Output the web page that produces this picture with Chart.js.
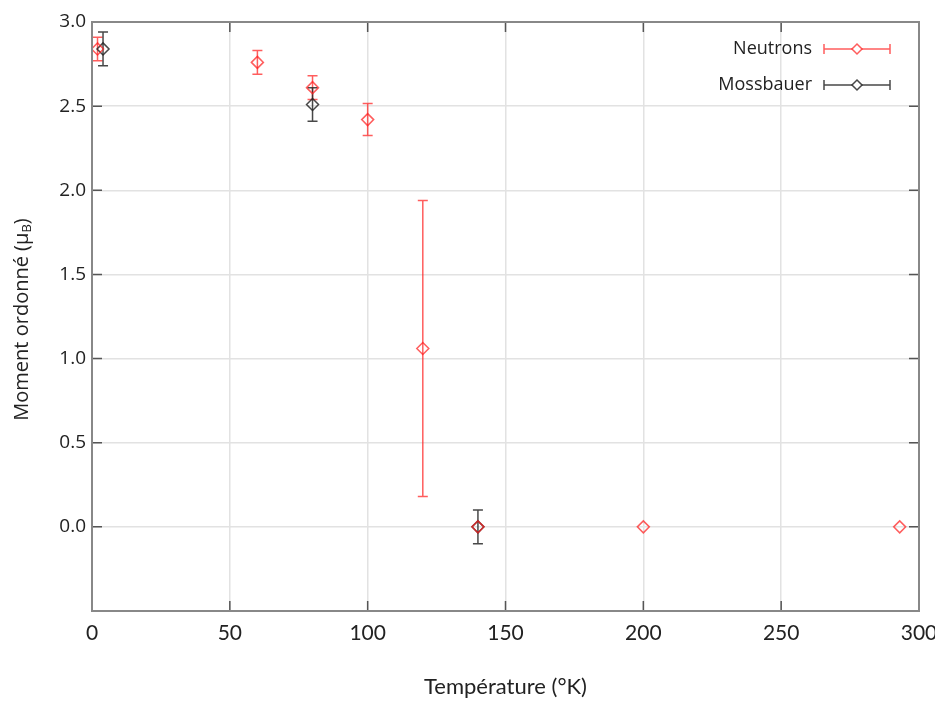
<!DOCTYPE html>
<html>
<head>
<meta charset="utf-8">
<script src="https://cdn.jsdelivr.net/npm/chart.js@4"></script>
<style>
  html, body { margin: 0; padding: 0; background: #fff; }
  #wrap { width: 935px; height: 702px; }
</style>
</head>
<body>
<div id="wrap"><canvas id="momentChart" width="935" height="702"></canvas></div>
<script>
// Neutrons (red)
const neutronT = [2, 60, 80, 100, 120, 140, 200, 293];
const neutronM = [2.84, 2.76, 2.61, 2.42, 1.06, 0.0, 0.0, 0.0];
const neutronErr = [0.07, 0.07, 0.07, 0.095, 0.88, 0, 0, 0];

// Mossbauer (black)
const mossT = [4, 80, 140];
const mossM = [2.84, 2.51, 0.0];
const mossErr = [0.1, 0.1, 0.1];

const xTicks = [0, 50, 100, 150, 200, 250, 300];
const yTicks = [-0.5, 0, 0.5, 1.0, 1.5, 2.0, 2.5, 3.0];

const RED = 'rgba(255, 30, 30, 0.72)';
const BLACK = 'rgba(40, 40, 40, 0.85)';

const toPoints = (xs, ys) => xs.map((x, i) => ({ x: x, y: ys[i] }));

// error bars, frame, inward ticks and legend
const decor = {
  id: 'decor',
  beforeDatasetsDraw(chart) {
    const ctx = chart.ctx;
    const xs = chart.scales.x, ys = chart.scales.y;
    const errs = [neutronErr, mossErr];
    chart.data.datasets.forEach((ds, di) => {
      ctx.save();
      ctx.strokeStyle = ds.borderColor;
      ctx.lineWidth = 1.5;
      ds.data.forEach((p, i) => {
        const e = errs[di][i];
        if (!e) return;
        const px = xs.getPixelForValue(p.x);
        const top = ys.getPixelForValue(p.y + e);
        const bot = ys.getPixelForValue(p.y - e);
        ctx.beginPath();
        ctx.moveTo(px, top); ctx.lineTo(px, bot);
        ctx.moveTo(px - 5, top); ctx.lineTo(px + 5, top);
        ctx.moveTo(px - 5, bot); ctx.lineTo(px + 5, bot);
        ctx.stroke();
      });
      ctx.restore();
    });
  },
  afterDraw(chart) {
    const ctx = chart.ctx;
    const a = chart.chartArea;
    const xs = chart.scales.x, ys = chart.scales.y;
    ctx.save();
    // inward ticks
    ctx.strokeStyle = '#555';
    ctx.lineWidth = 1.5;
    ctx.beginPath();
    xTicks.slice(1, -1).forEach(v => {
      const px = xs.getPixelForValue(v);
      ctx.moveTo(px, a.bottom); ctx.lineTo(px, a.bottom - 10);
      ctx.moveTo(px, a.top); ctx.lineTo(px, a.top + 10);
    });
    yTicks.slice(1, -1).forEach(v => {
      const py = ys.getPixelForValue(v);
      ctx.moveTo(a.left, py); ctx.lineTo(a.left + 10, py);
      ctx.moveTo(a.right, py); ctx.lineTo(a.right - 10, py);
    });
    ctx.stroke();
    // frame
    ctx.strokeStyle = '#888';
    ctx.lineWidth = 2;
    ctx.strokeRect(a.left, a.top, a.right - a.left, a.bottom - a.top);

    // legend
    const items = [
      { label: 'Neutrons', color: RED, y: 49 },
      { label: 'Mossbauer', color: BLACK, y: 85 }
    ];
    ctx.font = '18px "Open Sans"';
    ctx.textAlign = 'right';
    ctx.textBaseline = 'middle';
    items.forEach(it => {
      ctx.fillStyle = '#222';
      ctx.fillText(it.label, 812, it.y);
      ctx.strokeStyle = it.color;
      ctx.lineWidth = 1.5;
      ctx.beginPath();
      ctx.moveTo(824, it.y); ctx.lineTo(890, it.y);
      ctx.moveTo(824, it.y - 5); ctx.lineTo(824, it.y + 5);
      ctx.moveTo(890, it.y - 5); ctx.lineTo(890, it.y + 5);
      ctx.stroke();
      ctx.fillStyle = '#fff';
      ctx.beginPath();
      ctx.moveTo(857, it.y - 5); ctx.lineTo(862, it.y);
      ctx.lineTo(857, it.y + 5); ctx.lineTo(852, it.y);
      ctx.closePath();
      ctx.fill(); ctx.stroke();
    });

    // y axis title with subscript B
    ctx.translate(22, (a.top + a.bottom) / 2 + 3);
    ctx.rotate(-Math.PI / 2);
    ctx.fillStyle = '#222';
    ctx.textAlign = 'left';
    ctx.textBaseline = 'middle';
    const main = 'Moment ordonné (μ';
    ctx.font = '20px "Open Sans"';
    const w1 = ctx.measureText(main).width;
    ctx.font = '13px "Open Sans"';
    const w2 = ctx.measureText('B').width;
    ctx.font = '20px "Open Sans"';
    const w3 = ctx.measureText(')').width;
    const start = -(w1 + w2 + w3) / 2;
    ctx.fillText(main, start, 0);
    ctx.font = '13px "Open Sans"';
    ctx.fillText('B', start + w1, 5);
    ctx.font = '20px "Open Sans"';
    ctx.fillText(')', start + w1 + w2, 0);
    ctx.restore();
  }
};

const ctx = document.getElementById('momentChart').getContext('2d');
new Chart(ctx, {
  type: 'scatter',
  data: {
    datasets: [
      {
        label: 'Neutrons',
        data: toPoints(neutronT, neutronM),
        borderColor: RED,
        backgroundColor: 'rgba(255,255,255,0)',
        pointStyle: 'rectRot',
        pointRadius: 6,
        pointBorderWidth: 1.5,
        showLine: false
      },
      {
        label: 'Mossbauer',
        data: toPoints(mossT, mossM),
        borderColor: BLACK,
        backgroundColor: 'rgba(255,255,255,0)',
        pointStyle: 'rectRot',
        pointRadius: 6,
        pointBorderWidth: 1.5,
        showLine: false
      }
    ]
  },
  options: {
    responsive: false,
    animation: false,
    layout: { padding: { top: 22, right: 16, left: 0, bottom: 0 } },
    plugins: {
      legend: { display: false },
      tooltip: { enabled: false }
    },
    scales: {
      x: {
        type: 'linear',
        min: 0,
        max: 300,
        afterBuildTicks: s => { s.ticks = xTicks.map(v => ({ value: v })); },
        afterFit: s => { s.height = 91; s.paddingLeft = 0; s.paddingRight = 0; },
        grid: { color: '#e2e2e2', lineWidth: 1.5, drawTicks: false },
        border: { display: false },
        ticks: {
          padding: 10,
          color: '#222',
          font: { family: 'Lato', size: 21 },
          maxRotation: 0
        },
        title: {
          display: true,
          text: 'Température (°K)',
          color: '#222',
          font: { family: 'Lato', size: 22 },
          padding: { top: 0, bottom: 2 }
        }
      },
      y: {
        type: 'linear',
        min: -0.5,
        max: 3.0,
        afterBuildTicks: s => { s.ticks = yTicks.map(v => ({ value: v })); },
        afterFit: s => { s.width = 92; s.paddingTop = 0; s.paddingBottom = 0; },
        grid: { color: '#e2e2e2', lineWidth: 1.5, drawTicks: false },
        border: { display: false },
        ticks: {
          padding: 6,
          color: '#222',
          font: { family: 'Open Sans', size: 19 },
          callback: v => (v < 0 ? '' : v.toFixed(1))
        },
        title: { display: false }
      }
    }
  },
  plugins: [decor]
});
</script>
</body>
</html>
